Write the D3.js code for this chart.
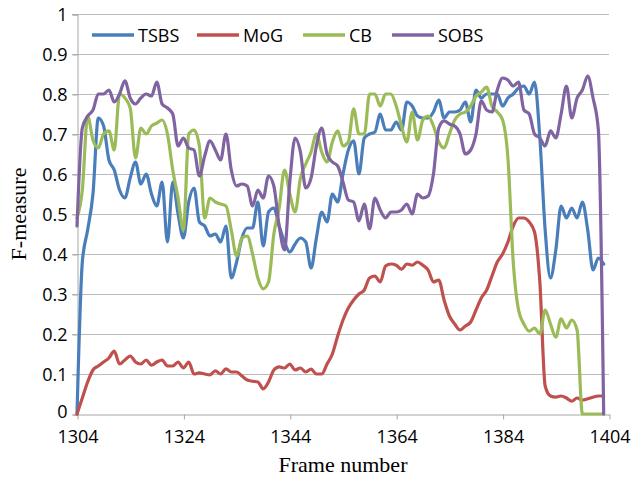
<!DOCTYPE html>
<html><head><meta charset="utf-8">
<script src="https://cdn.jsdelivr.net/npm/d3@7"></script>
<style>body{margin:0;background:#fff}svg{display:block}</style>
</head><body>
<svg id="c" width="633" height="477"></svg>
<script>
const frameStart = 1304;
const xTicks = [1304, 1324, 1344, 1364, 1384, 1404];
const yTicks = [0, 0.1, 0.2, 0.3, 0.4, 0.5, 0.6, 0.7, 0.8, 0.9, 1];
const seriesNames = ["TSBS", "MoG", "CB", "SOBS"];
const seriesColors = ["#4a7ebb", "#c0504d", "#9bbb59", "#8064a2"];

const TSBS = [0.00,0.38,0.46,0.55,0.74,0.72,0.635,0.61,0.56,0.54,0.59,0.63,0.575,0.60,0.55,0.52,0.58,0.43,0.58,0.50,
0.44,0.53,0.565,0.48,0.47,0.445,0.45,0.43,0.47,0.34,0.38,0.44,0.465,0.465,0.53,0.42,0.505,0.515,0.47,0.43,
0.405,0.425,0.44,0.43,0.365,0.44,0.505,0.48,0.55,0.53,0.60,0.66,0.683,0.60,0.69,0.70,0.705,0.75,0.71,0.71,
0.73,0.71,0.78,0.77,0.745,0.74,0.74,0.755,0.785,0.74,0.755,0.755,0.76,0.78,0.73,0.81,0.79,0.80,0.80,0.80,
0.77,0.79,0.80,0.815,0.82,0.80,0.83,0.69,0.46,0.34,0.41,0.52,0.49,0.515,0.49,0.53,0.46,0.36,0.39,0.375];

const MoG = [0.00,0.04,0.08,0.11,0.12,0.13,0.14,0.157,0.125,0.135,0.145,0.13,0.125,0.135,0.122,0.13,0.135,0.12,0.12,0.13,
0.115,0.13,0.10,0.103,0.10,0.098,0.108,0.10,0.113,0.105,0.105,0.095,0.085,0.082,0.08,0.063,0.08,0.11,0.118,0.115,
0.125,0.11,0.115,0.105,0.112,0.10,0.10,0.125,0.15,0.195,0.235,0.265,0.285,0.30,0.31,0.34,0.345,0.33,0.37,0.375,
0.372,0.362,0.375,0.372,0.38,0.372,0.36,0.33,0.335,0.285,0.245,0.225,0.21,0.22,0.23,0.26,0.29,0.31,0.345,0.38,
0.40,0.43,0.47,0.49,0.49,0.48,0.455,0.33,0.07,0.045,0.042,0.045,0.04,0.032,0.04,0.035,0.038,0.042,0.045,0.045];

const CB = [0.49,0.56,0.745,0.685,0.665,0.70,0.708,0.66,0.80,0.79,0.765,0.64,0.715,0.70,0.72,0.727,0.735,0.70,0.61,0.54,
0.46,0.70,0.71,0.67,0.49,0.54,0.53,0.525,0.52,0.46,0.395,0.44,0.445,0.40,0.34,0.313,0.33,0.45,0.515,0.61,
0.55,0.505,0.59,0.625,0.655,0.70,0.655,0.63,0.68,0.708,0.67,0.68,0.763,0.70,0.70,0.80,0.80,0.77,0.80,0.80,
0.77,0.72,0.68,0.755,0.685,0.735,0.745,0.72,0.68,0.665,0.70,0.735,0.75,0.755,0.77,0.795,0.805,0.817,0.77,0.755,
0.735,0.64,0.38,0.26,0.225,0.207,0.215,0.20,0.26,0.225,0.192,0.238,0.215,0.235,0.21,0.0,0.0,0.0,0.0,0.0];

const SOBS = [0.47,0.715,0.745,0.76,0.80,0.80,0.81,0.78,0.80,0.833,0.79,0.775,0.79,0.80,0.795,0.83,0.775,0.765,0.75,0.67,
0.69,0.665,0.66,0.595,0.645,0.683,0.66,0.635,0.70,0.61,0.57,0.575,0.57,0.52,0.56,0.54,0.595,0.57,0.47,0.41,
0.58,0.69,0.655,0.565,0.59,0.67,0.715,0.65,0.63,0.62,0.58,0.535,0.53,0.483,0.525,0.463,0.54,0.51,0.49,0.505,
0.505,0.51,0.525,0.50,0.55,0.54,0.545,0.60,0.715,0.733,0.725,0.72,0.70,0.65,0.66,0.70,0.783,0.76,0.755,0.81,
0.84,0.835,0.82,0.83,0.76,0.75,0.70,0.69,0.67,0.708,0.69,0.75,0.82,0.74,0.79,0.81,0.845,0.79,0.71,0.0];

const seriesValues = [TSBS, MoG, CB, SOBS];

const svg = d3.select("#c");
const L = 77, R = 609, T = 14, B = 414;
const x = d3.scaleLinear().domain([1304, 1404]).range([L, R]);
const y = d3.scaleLinear().domain([0, 1]).range([B, T]);
const tickFont = "'Open Sans', 'Noto Sans', sans-serif";

// gridlines
svg.append("g").selectAll("line").data(yTicks.filter(d => d > 0)).join("line")
  .attr("x1", L - 5).attr("x2", R).attr("y1", d => y(d) + 0.5).attr("y2", d => y(d) + 0.5)
  .attr("stroke", "#bbbbbb").attr("stroke-width", 1);

// y axis
const yAxis = d3.axisLeft(y).tickValues(yTicks).tickFormat(d => d3.format("~g")(d)).tickSize(5).tickPadding(5);
const gy = svg.append("g").attr("transform", `translate(${L + 0.5},0.5)`).call(yAxis);
gy.select(".domain").attr("stroke", "#a6a6a6");
gy.selectAll(".tick line").attr("stroke", "#a6a6a6");
gy.selectAll("text").attr("font-family", tickFont).attr("font-size", 18).attr("fill", "#000")
  .attr("y", d => d === 0 ? -3 : 0);

// x axis
const xAxis = d3.axisBottom(x).tickValues(xTicks).tickFormat(d3.format("d")).tickSize(5).tickPadding(11).tickSizeOuter(0);
const gx = svg.append("g").attr("transform", `translate(0.5,${B + 0.5})`).call(xAxis);
gx.select(".domain").attr("stroke", "#a6a6a6");
gx.selectAll(".tick line").attr("stroke", "#a6a6a6");
gx.selectAll("text").attr("font-family", tickFont).attr("font-size", 18).attr("fill", "#000");

// lines
const line = d3.line().x((d, i) => x(frameStart + i)).y(d => y(d)).curve(d3.curveMonotoneX);
seriesValues.forEach((vals, k) => {
  svg.append("path").datum(vals).attr("d", line)
    .attr("fill", "none").attr("stroke", seriesColors[k]).attr("stroke-width", 3.2)
    .attr("stroke-linejoin", "round").attr("stroke-linecap", "round");
});

// legend
const legX = [92, 197, 303, 392];
const lg = svg.append("g");
seriesNames.forEach((n, k) => {
  lg.append("line").attr("x1", legX[k]).attr("x2", legX[k] + 42).attr("y1", 35).attr("y2", 35)
    .attr("stroke", seriesColors[k]).attr("stroke-width", 3.4);
  lg.append("text").attr("x", legX[k] + 46).attr("y", 41.5).text(n)
    .attr("font-family", tickFont).attr("font-size", 18).attr("fill", "#000");
});

// axis titles
svg.append("text").attr("x", (L + R) / 2).attr("y", 472).attr("text-anchor", "middle")
  .attr("font-family", "'Liberation Serif', 'Times New Roman', serif").attr("font-size", 22).text("Frame number");
svg.append("text").attr("transform", `translate(26,${(T + B) / 2}) rotate(-90)`).attr("text-anchor", "middle")
  .attr("font-family", "'Liberation Serif', 'Times New Roman', serif").attr("font-size", 22).text("F-measure");
</script>
</body></html>
